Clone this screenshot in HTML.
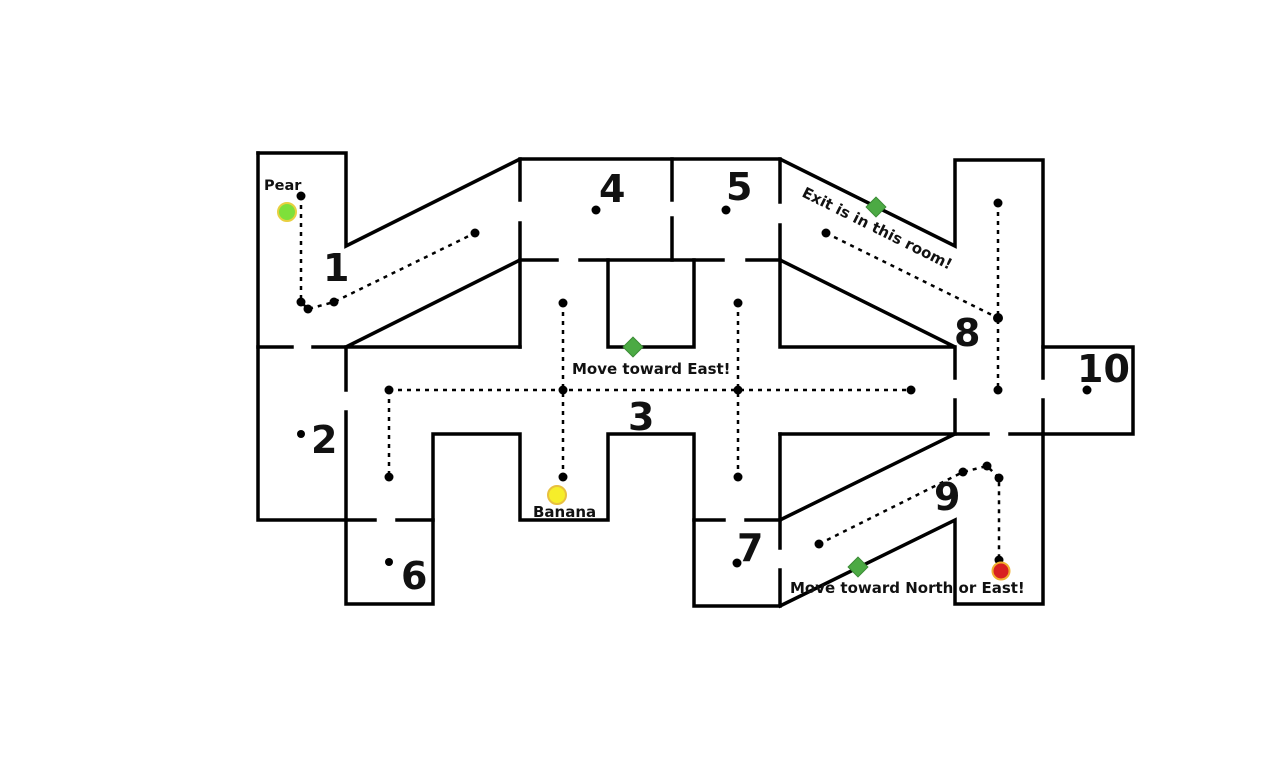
<!DOCTYPE html>
<html><head><meta charset="utf-8"><style>
html,body{margin:0;padding:0;background:#fff;width:1280px;height:765px;overflow:hidden}
svg{display:block}
text{font-family:"DejaVu Sans","Liberation Sans",sans-serif;font-weight:bold;fill:#111}
</style></head><body>
<svg width="1280" height="765" viewBox="0 0 1280 765">
<g stroke="#000" stroke-width="3.5" fill="none" stroke-linecap="square" stroke-linejoin="miter">
<path d="M258,153 H346 V246 L520,159 H780 L955,246 V160 H1043 V347 H1133 V434 H1010"/>
<path d="M988,434 H780 M780,520 L955,434"/>
<path d="M258,153 V520 H375 M397,520 H433 V434 H520 V520 H608 V434 H694 V606 H780 V570 M780,548 V434"/>
<path d="M346,390 V347 M346,412 V604 H433 V520"/>
<path d="M258,347 H292 M313,347 H520 M346,347 L520,260"/>
<path d="M520,159 V200 M520,223 V347"/>
<path d="M520,260 H557 M580,260 H723 M747,260 H780"/>
<path d="M672,159 V200 M672,218 V260"/>
<path d="M608,260 V347 H694 V260"/>
<path d="M780,159 V202 M780,225 V347 H955 L780,260"/>
<path d="M955,347 V378 M955,400 V434 M1043,347 V378 M1043,400 V434"/>
<path d="M694,520 H724 M746,520 H780"/>
<path d="M780,606 L955,520 V604 H1043 V434"/>
</g>
<g stroke="#000" stroke-width="2.5" fill="none" stroke-dasharray="4,5">
<path d="M301,196 V302 L308,309 L334,302 L475,233"/>
<path d="M389,390 H911 M389,390 V477 M563,303 V477 M738,303 V477"/>
<path d="M826,233 L998,318 M998,203 V390"/>
<path d="M819,544 L963,472 L987,466 L999,478 V560"/>
</g>
<g fill="#000">
<circle cx="301" cy="196" r="4.5"/><circle cx="301" cy="302" r="4.5"/><circle cx="308" cy="309" r="4.5"/><circle cx="334" cy="302" r="4.5"/><circle cx="475" cy="233" r="4.5"/>
<circle cx="596" cy="210" r="4.5"/><circle cx="726" cy="210" r="4.5"/>
<circle cx="389" cy="390" r="4.5"/><circle cx="563" cy="390" r="4.5"/><circle cx="738" cy="390" r="4.5"/><circle cx="911" cy="390" r="4.5"/>
<circle cx="389" cy="477" r="4.5"/><circle cx="563" cy="477" r="4.5"/><circle cx="738" cy="477" r="4.5"/><circle cx="563" cy="303" r="4.5"/><circle cx="738" cy="303" r="4.5"/>
<circle cx="826" cy="233" r="4.5"/><circle cx="998" cy="203" r="4.5"/><circle cx="998" cy="318" r="5"/><circle cx="998" cy="390" r="4.5"/><circle cx="1087" cy="390" r="4.5"/>
<circle cx="301" cy="434" r="4"/><circle cx="389" cy="562" r="4"/><circle cx="737" cy="563" r="4.5"/>
<circle cx="819" cy="544" r="4.5"/><circle cx="963" cy="472" r="4.5"/><circle cx="987" cy="466" r="4.5"/><circle cx="999" cy="478" r="4.5"/><circle cx="999" cy="560" r="4.5"/>
</g>
<circle cx="287" cy="212" r="9" fill="#7ee03a" stroke="#e8d040" stroke-width="2"/>
<circle cx="557" cy="495" r="9" fill="#f6ee2a" stroke="#e8c040" stroke-width="2"/>
<circle cx="1001" cy="571" r="8.5" fill="#d82020" stroke="#f0b030" stroke-width="2"/>
<g fill="#4caa44" stroke="#3a8a34" stroke-width="1">
<rect x="869" y="200" width="14" height="14" transform="rotate(45 876 207)"/>
<rect x="626" y="340" width="14" height="14" transform="rotate(45 633 347)"/>
<rect x="851" y="560" width="14" height="14" transform="rotate(45 858 567)"/>
</g>
<g font-size="38">
<text x="323" y="281">1</text>
<text x="311" y="453">2</text>
<text x="628" y="430">3</text>
<text x="599" y="202">4</text>
<text x="726" y="200">5</text>
<text x="401" y="589">6</text>
<text x="737" y="561">7</text>
<text x="954" y="346">8</text>
<text x="934" y="510">9</text>
<text x="1077" y="382">10</text>
</g>
<text x="264" y="190" font-size="14.5">Pear</text>
<text x="533" y="517" font-size="15">Banana</text>
<text x="572" y="374" font-size="15">Move toward East!</text>
<text x="790" y="593" font-size="15">Move toward North or East!</text>
<text x="801" y="196" font-size="15" transform="rotate(26.5 801 196)">Exit is in this room!</text>
</svg>
</body></html>
